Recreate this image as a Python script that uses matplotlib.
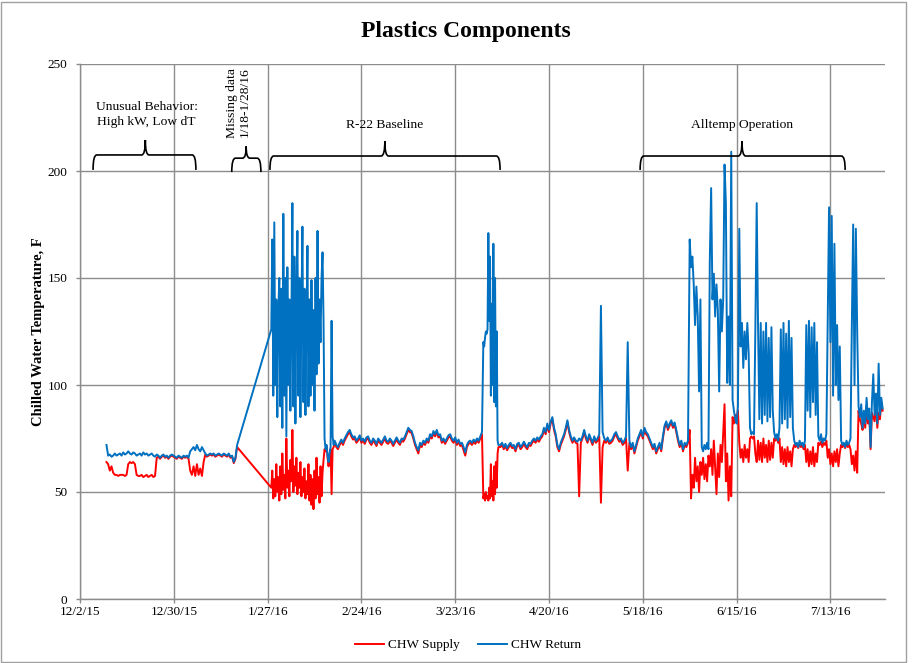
import numpy as np
import matplotlib
matplotlib.use('Agg')
import matplotlib.pyplot as plt
import matplotlib.dates as mdates
from matplotlib.path import Path
from matplotlib.patches import PathPatch, Rectangle

plt.rcParams['font.family'] = ['Liberation Serif', 'DejaVu Serif']

START = np.datetime64('2015-12-02T00:00')

# ---- data: day offsets from 12/2/15, values in F ----
# Segment 1: Dec 10 - Jan 17 (start day 7.9, every 0.5 day)
seg1_start, seg1_step = 7.9, 0.5
return_1 = [72, 67, 67.5, 66.5, 67, 68, 67, 67.5, 68, 67,
            68.5, 67.5, 68, 69, 68, 67.5, 68.5, 68, 67, 67.5,
            68, 67, 68.5, 67.5, 68, 67, 67.5, 68, 67, 66.5,
            67.5, 67, 66, 67, 67.5, 66.5, 67, 66, 67, 67.5,
            67, 66.5, 66, 67, 66.5, 66, 67, 66.5, 67, 66,
            69, 70, 71, 69.5, 72, 70, 69, 71, 69.5, 68,
            67, 67.5, 68, 67.5, 68, 67, 67.5, 68, 67.5, 67,
            68, 67.5, 67, 68, 66.5, 67, 64, 66, 72]
supply_1 = [64, 63, 60, 62, 59, 58, 58, 57.5, 58, 58,
            58, 57.5, 58, 63, 64, 63.5, 64, 63, 58, 57.5,
            57.5, 58, 57, 57.5, 58, 57, 57.5, 58, 57, 57.5,
            66, 66.5, 65.5, 66.5, 67, 66, 66.5, 65.5, 66.5, 67,
            66.5, 66, 65.5, 66.5, 66, 65.5, 66.5, 66, 66.5, 65.5,
            60, 58, 62, 57.5, 63, 58, 61, 57.5, 64, 67.5,
            66.5, 67, 67.5, 67, 67.5, 66.5, 67, 67.5, 67, 66.5,
            67.5, 67, 66.5, 67.5, 66, 66.5, 63.5, 65.5, 71]

# Segment 2: Jan 28 - Feb 17 (start day 57.1, every 0.3 day)
seg2_start, seg2_step = 57.1, 0.3
return_2 = [126, 168, 95, 176, 100, 140, 85, 135, 150, 90,
            145, 80, 180, 95, 150, 76, 155, 100, 140, 88,
            130, 185, 90, 160, 82, 140, 172, 95, 150, 85,
            135, 174, 92, 145, 86, 130, 165, 90, 140, 95,
            149, 100, 135, 88, 150, 105, 172, 110, 140, 120,
            150, 162, 130, 75, 70, 72, 67, 64, 68, 71,
            130, 76, 72, 74, 73]
supply_2 = [52, 60, 47, 56, 48, 63, 50, 57, 46, 62,
            49, 68, 51, 58, 47, 75, 52, 60, 48, 65,
            55, 79, 50, 62, 53, 66, 49, 59, 52, 64,
            48, 57, 50, 61, 47, 55, 49, 63, 46, 58,
            44, 56, 42, 60, 47, 66, 49, 57, 45, 62,
            48, 59, 65, 70, 69, 71, 66, 62, 67, 70,
            49, 70, 71, 73, 72]

# Segment 3: R-22 baseline (start day 76.5, every 0.5 day)
seg3_start, seg3_step = 76.5, 0.5
return_3 = [72, 71, 73, 74.5, 73, 75, 76.5, 78, 79, 77,
            75.5, 76, 74, 75, 76.5, 74, 75, 73.5, 75.5, 76,
            74, 73, 75, 74, 72.5, 75, 74, 73, 74.5, 76,
            74, 73.5, 75, 74, 72.5, 74, 75.5, 74, 73, 75,
            74.5, 76, 78, 80, 79, 78.5, 76, 73, 71, 69.5,
            73, 72, 74, 73, 75, 74, 77, 76, 78.5, 77,
            79, 76.5, 77, 74, 75, 73.5, 75, 76.5, 77, 75,
            74, 75.5, 73, 74.5, 72.5, 73, 71, 68.5, 72, 73.5,
            74, 73, 74.5, 73.5, 75, 74, 76, 78]
supply_3 = [71, 70, 72, 73.5, 72, 74, 75.5, 77, 78, 76,
            74.5, 75, 73, 74, 75.5, 73, 74, 72.5, 74.5, 75,
            73, 72, 74, 73, 71.5, 74, 73, 72, 73.5, 75,
            73, 72.5, 74, 73, 71.5, 73, 74.5, 73, 72, 74,
            73.5, 75, 77, 79, 78, 77.5, 75, 72, 70, 68,
            72, 71, 73, 72, 74, 73, 76, 75, 77.5, 76,
            78, 75.5, 76, 73, 74, 72.5, 74, 75.5, 76, 74,
            73, 74.5, 72, 73.5, 71.5, 72, 69.5, 67, 71, 72.5,
            73, 72, 73.5, 72.5, 74, 73, 75, 77]

# Segment 4: early April event (start day 120.4, every 0.25 day)
seg4_start, seg4_step = 120.4, 0.25
return_4 = [120, 118, 122, 125, 124, 126, 171, 130, 160, 95,
            138, 100, 166, 92, 150, 90, 125, 74, 72]
supply_4 = [47, 49, 46, 50, 47, 48, 46, 52, 47, 63,
            48, 55, 46, 62, 49, 64, 52, 68, 71]

# Segment 5: April - May (start day 125.5, every 0.5 day)
seg5_start, seg5_step = 125.5, 0.5
return_5 = [72, 73, 71, 72.5, 70.5, 72, 73, 71.5, 72, 70,
            72.5, 73, 71, 72, 73.5, 72, 71, 73, 72.5, 74,
            75, 74, 75.5, 74.5, 76, 77, 80, 78, 82, 79,
            83, 85, 80, 77, 72, 70, 73, 75, 77, 80,
            83.5, 79, 76, 74, 75.5, 74, 73.5, 75, 74, 76,
            79, 76, 74, 77, 75, 73, 76, 74, 75, 77,
            137, 78, 75, 74, 75.5, 73.5, 74, 75, 77, 78,
            76, 74.5, 75, 73, 74, 76, 120, 74, 71, 73,
            69, 72, 75, 77, 79, 76, 80, 78, 77, 75,
            73, 71, 72.5, 69, 71, 73, 70, 76, 81, 83,
            80, 82, 83.5, 81, 82.5, 79, 75, 72, 74, 70,
            73, 72, 74]
supply_5 = [71, 72, 70, 71.5, 69.5, 71, 72, 70.5, 71, 69,
            71.5, 72, 70, 71, 72.5, 71, 70, 72, 71.5, 73,
            74, 73, 74.5, 73.5, 75, 76, 79, 77, 81, 78,
            82, 84, 79, 76, 71, 69, 72, 74, 76, 79,
            82.5, 78, 75, 73, 74.5, 73, 72.5, 48, 73, 75,
            78, 75, 73, 76, 74, 72, 75, 73, 74, 76,
            45, 71, 74, 73, 74.5, 72.5, 73, 74, 76, 77,
            75, 73.5, 74, 72, 73, 75, 60, 73, 70, 72,
            68, 71, 74, 76, 78, 75, 79, 77, 76, 74,
            72, 70, 71.5, 68, 70, 72, 69, 75, 80, 82,
            79, 81, 82.5, 80, 81.5, 78, 74, 71, 73, 69,
            72, 71, 73]

# Segment 6: Alltemp operation (start day 182.0, every 0.4 day)
seg6_start, seg6_step = 182.0, 0.4
return_6 = [168, 155, 160, 147, 128, 146, 132, 97, 140, 71,
            69, 72, 70, 73, 70, 158, 192, 140, 152, 132,
            147, 135, 97, 140, 125, 140, 203, 185, 101, 132,
            100, 209, 93, 88, 84, 82, 90, 173, 118, 129,
            108, 125, 112, 129, 115, 80, 77, 78, 77, 126,
            185, 128, 84, 129, 82, 125, 86, 129, 83, 122,
            85, 127, 88, 78, 75, 77, 74, 80, 126, 82,
            129, 84, 124, 80, 130, 85, 122, 80, 74, 72,
            73, 71, 74, 72, 73, 71, 74, 128, 88, 130,
            85, 127, 92, 129, 86, 120, 76, 74, 77, 73,
            75, 74, 77, 130, 183, 120, 179, 95, 166, 100,
            128, 93, 118, 74, 72, 73, 71, 74, 72, 73,
            75, 128, 175, 100, 173, 125, 90, 85, 91, 80,
            88, 82, 94, 84, 89, 71, 92, 105, 86, 96,
            82, 110, 86, 94, 89]
supply_6 = [79, 47, 58, 52, 66, 55, 62, 50, 64, 58,
            66, 56, 63, 55, 67, 62, 70, 58, 74, 61,
            49, 68, 57, 72, 64, 78, 91, 55, 68, 46,
            62, 48, 85, 82, 86, 84, 88, 73, 66, 70,
            64, 72, 66, 70, 64, 75, 76, 75, 76, 68,
            64, 74, 65, 73, 64, 75, 66, 72, 64, 74,
            65, 73, 66, 75, 74, 76, 73, 75, 64, 71,
            63, 70, 62, 71, 64, 69, 62, 70, 72, 71,
            72.5, 70.5, 73, 71, 72, 70, 72, 64, 70, 62,
            69, 63, 71, 62, 68, 64, 73, 72, 73.5, 71,
            73, 72, 74, 66, 70, 63, 68, 62, 69, 64,
            70, 62, 68, 72, 71, 72.5, 70.5, 73, 71, 72,
            70, 63, 67, 60, 69, 59, 88, 84, 82, 79,
            86, 80, 90, 82, 86, 70, 87, 85, 83, 92,
            80, 87, 84, 92, 88]

tick_labels = ['12/2/15', '12/30/15', '1/27/16', '2/24/16', '3/23/16',
               '4/20/16', '5/18/16', '6/15/16', '7/13/16']
tick_days = [0, 28, 56, 84, 112, 140, 168, 196, 224]
y_ticks = [0, 50, 100, 150, 200, 250]

segments = [(seg1_start, seg1_step, supply_1, return_1),
            (seg2_start, seg2_step, supply_2, return_2),
            (seg3_start, seg3_step, supply_3, return_3),
            (seg4_start, seg4_step, supply_4, return_4),
            (seg5_start, seg5_step, supply_5, return_5),
            (seg6_start, seg6_step, supply_6, return_6)]

day_list, sup_list, ret_list = [], [], []
for s0, st, sv, rv in segments:
    assert len(sv) == len(rv), (s0, len(sv), len(rv))
    day_list.append(s0 + st * np.arange(len(sv)))
    sup_list.append(np.array(sv, float))
    ret_list.append(np.array(rv, float))
days = np.concatenate(day_list)
supply = np.concatenate(sup_list)
ret = np.concatenate(ret_list)


def to_dt(d):
    d = np.asarray(d, float)
    return START + np.round(d * 86400).astype(np.int64).astype('timedelta64[s]')


x0num = mdates.date2num(START)
dates = to_dt(days)

fig = plt.figure(figsize=(9.16, 6.63), dpi=100)
ax = fig.add_axes([80 / 916, 1 - 599 / 663, (885 - 80) / 916, (599 - 64) / 663])

ax.plot(dates, supply, color='#FF0000', lw=1.4, label='CHW Supply', zorder=3)
ax.plot(dates, ret, color='#0070C0', lw=1.4, label='CHW Return', zorder=4)

ax.set_ylim(0, 250)
ax.set_xlim(x0num, x0num + 240.3)
ax.set_yticks(y_ticks)
ax.set_xticks([x0num + d for d in tick_days])
ax.set_xticklabels(tick_labels)
grid_c = '#8c8c8c'
ax.grid(True, color=grid_c, lw=1.0, zorder=0)
ax.set_axisbelow(True)
for s in ['top', 'right']:
    ax.spines[s].set_visible(False)
for s in ['left', 'bottom']:
    ax.spines[s].set_color(grid_c)
    ax.spines[s].set_linewidth(1.0)
ax.tick_params(axis='both', colors=grid_c, length=3, width=1.0, labelsize=9.5,
               labelcolor='black')
ax.tick_params(axis='x', pad=2)
ax.tick_params(axis='y', pad=6)
ax.set_ylabel('Chilled Water Temperature, F', fontsize=10.5, fontweight='bold', labelpad=2)

fig.text(0.509, 1 - 32 / 663, 'Plastics Components', ha='center', va='center',
         fontsize=17, fontweight='bold')


def brace(x0, x1, xm, yb, ym, yt, dx=1.1):
    x0 += x0num; x1 += x0num; xm += x0num
    verts = [(x0, yb), (x0, ym), (x0 + dx, ym), (xm - dx, ym), (xm, ym), (xm, yt),
             (xm, ym), (xm + dx, ym), (x1 - dx, ym), (x1, ym), (x1, yb)]
    codes = [Path.MOVETO, Path.CURVE3, Path.CURVE3, Path.LINETO, Path.CURVE3, Path.CURVE3,
             Path.CURVE3, Path.CURVE3, Path.LINETO, Path.CURVE3, Path.CURVE3]
    ax.add_patch(PathPatch(Path(verts, codes), fill=False, ec='black', lw=1.2,
                           clip_on=False, zorder=5))


brace(3.9, 34.6, 19.5, 200.5, 207.5, 214.5)
brace(45.3, 54.0, 49.6, 199.5, 206.0, 211.5)
brace(56.7, 125.4, 91.0, 200.5, 207.0, 214.0)
brace(167.2, 228.4, 197.6, 200.5, 207.0, 214.0)

ax.text(x0num + 19.9, 226.4, 'Unusual Behavior:\nHigh kW, Low dT', ha='center', va='center',
        fontsize=9.7, linespacing=1.25)
ax.text(x0num + 47.3, 232, 'Missing data\n1/18-1/28/16', ha='center', va='center',
        fontsize=9.7, rotation=90, linespacing=1.1)
ax.text(x0num + 91.0, 221.5, 'R-22 Baseline', ha='center', va='center', fontsize=9.7)
ax.text(x0num + 197.6, 221.5, 'Alltemp Operation', ha='center', va='center', fontsize=9.7)

fig.legend(loc='center', bbox_to_anchor=(0.511, 1 - 645 / 663), ncol=2, frameon=False,
           fontsize=9.5, handlelength=2.2, columnspacing=1.4, handletextpad=0.3)

fig.patches.append(Rectangle((1 / 916, 1 / 663), 905 / 916, 660 / 663, transform=fig.transFigure,
                             fill=False, ec='#a0a0a0', lw=1.0))

fig.savefig('out.png', dpi=100)
